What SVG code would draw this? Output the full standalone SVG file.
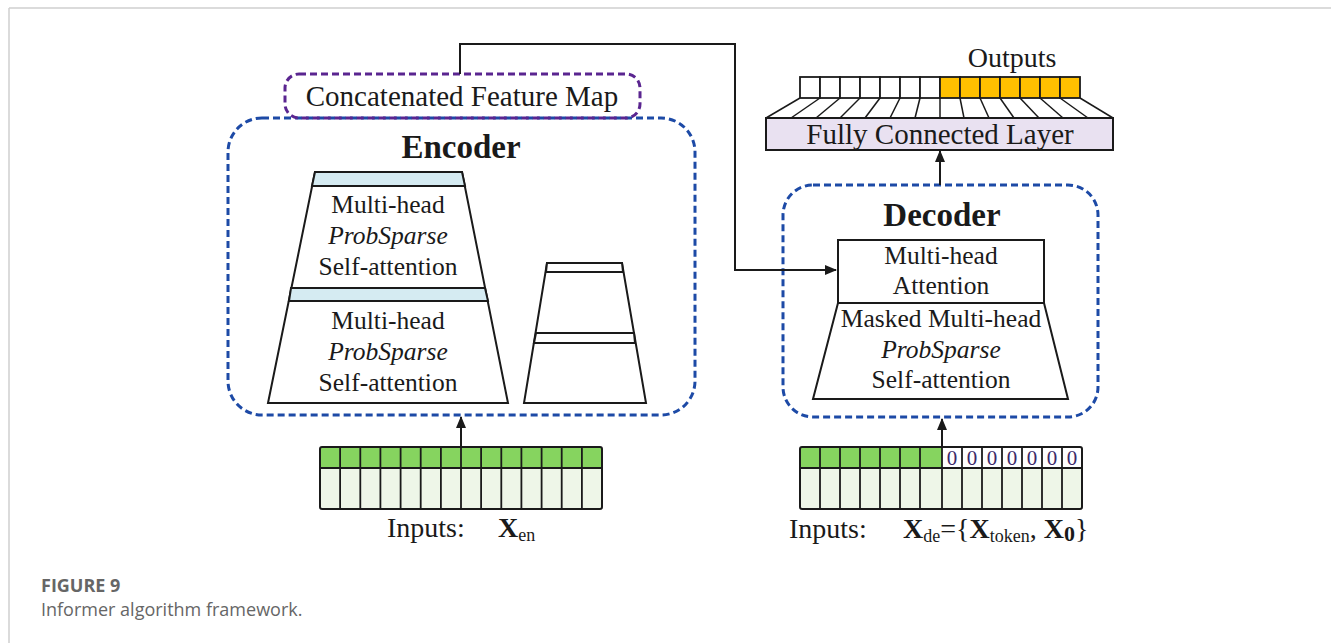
<svg xmlns="http://www.w3.org/2000/svg" width="1331" height="643" viewBox="0 0 1331 643">
<defs>
<style>
.t{font-family:"Liberation Serif","Times New Roman",serif;fill:#1a1a1a;font-size:25.5px;text-anchor:middle}
.l{font-size:29px}
.it{font-style:italic}
.b{font-weight:bold}
.dashB{fill:none;stroke:#1d4aa6;stroke-width:3;stroke-dasharray:7 4}
.dashP{fill:none;stroke:#5a2590;stroke-width:3;stroke-dasharray:7 4}
.blk{fill:#fff;stroke:#1a1a1a;stroke-width:2}
.band{fill:#d5ebf2;stroke:#1a1a1a;stroke-width:2}
.cell{stroke:#1a1a1a;stroke-width:1.8}
.conn{fill:none;stroke:#1a1a1a;stroke-width:2}
.cap{font-family:"Open Sans","Liberation Sans",sans-serif;fill:#666}
</style>
<marker id="arr" markerUnits="userSpaceOnUse" markerWidth="12" markerHeight="12" viewBox="0 0 12 12" refX="11" refY="6" orient="auto">
<path d="M0,1 L12,6 L0,11 Z" fill="#1a1a1a"/>
</marker>
</defs>
<rect width="1331" height="643" fill="#fff"/>
<g id="frame">
<line x1="9" y1="8" x2="1331" y2="8" stroke="#cfcfcf" stroke-width="1.5"/>
<line x1="9" y1="8" x2="9" y2="643" stroke="#cfcfcf" stroke-width="1.5"/>
</g>

<g id="encoder">
<rect class="dashB" x="228" y="118" width="467" height="297" rx="34"/>
<text class="t b" x="461" y="158" style="font-size:33px">Encoder</text>
<polygon class="blk" points="315,172 462,172 508,403 268,403"/>
<polygon class="band" points="315,172 462,172 465,186 312,186"/>
<polygon class="band" points="291,288 485,288 488,301 289,301"/>
<text class="t" x="388" y="213">Multi-head</text>
<text class="t it" x="388" y="244">ProbSparse</text>
<text class="t" x="388" y="275">Self-attention</text>
<text class="t" x="388" y="329">Multi-head</text>
<text class="t it" x="388" y="360">ProbSparse</text>
<text class="t" x="388" y="391">Self-attention</text>
<polygon class="blk" points="547,263 622,263 646,403 524,403"/>
<polygon class="band" points="547,263 622,263 623,272 546,272" style="fill:#fff"/>
<polygon class="band" points="536,333 634,333 635,343 534,343" style="fill:#fff"/>
</g>

<g id="concat">
<rect class="dashP" x="285" y="74" width="355" height="44" rx="14"/>
<text class="t l" x="462" y="106">Concatenated Feature Map</text>
</g>

<g id="decoder">
<rect class="dashB" x="783" y="185" width="315" height="232" rx="30"/>
<text class="t b" x="942" y="226" style="font-size:33px">Decoder</text>
<rect class="blk" x="838" y="240" width="206" height="63"/>
<text class="t" x="941" y="264">Multi-head</text>
<text class="t" x="941" y="294">Attention</text>
<polygon class="blk" points="838,303 1044,303 1068,399 813,399"/>
<text class="t" x="941" y="327">Masked Multi-head</text>
<text class="t it" x="941" y="358">ProbSparse</text>
<text class="t" x="941" y="388">Self-attention</text>
</g>

<g id="fc">
<g stroke="#1a1a1a" stroke-width="1.5">
<line x1="800" y1="98" x2="766" y2="118"/><line x1="820" y1="98" x2="791" y2="118"/><line x1="840" y1="98" x2="816" y2="118"/><line x1="860" y1="98" x2="840" y2="118"/><line x1="880" y1="98" x2="865" y2="118"/><line x1="900" y1="98" x2="890" y2="118"/><line x1="920" y1="98" x2="915" y2="118"/><line x1="940" y1="98" x2="940" y2="118"/><line x1="960" y1="98" x2="964" y2="118"/><line x1="980" y1="98" x2="989" y2="118"/><line x1="1000" y1="98" x2="1014" y2="118"/><line x1="1020" y1="98" x2="1039" y2="118"/><line x1="1040" y1="98" x2="1063" y2="118"/><line x1="1060" y1="98" x2="1088" y2="118"/><line x1="1080" y1="98" x2="1113" y2="118"/>
</g>
<rect x="766" y="118" width="347" height="32" fill="#e9e1f1" stroke="#1a1a1a" stroke-width="2"/>
<text class="t l" x="940" y="144">Fully Connected Layer</text>
</g>

<g id="outputs">
<text class="t" x="1012" y="67" style="font-size:28px">Outputs</text>
<g class="cell" fill="#fff">
<rect x="800" y="77" width="20" height="21"/><rect x="820" y="77" width="20" height="21"/><rect x="840" y="77" width="20" height="21"/><rect x="860" y="77" width="20" height="21"/><rect x="880" y="77" width="20" height="21"/><rect x="900" y="77" width="20" height="21"/><rect x="920" y="77" width="20" height="21"/>
</g>
<g class="cell" fill="#ffc000">
<rect x="940" y="77" width="20" height="21"/><rect x="960" y="77" width="20" height="21"/><rect x="980" y="77" width="20" height="21"/><rect x="1000" y="77" width="20" height="21"/><rect x="1020" y="77" width="20" height="21"/><rect x="1040" y="77" width="20" height="21"/><rect x="1060" y="77" width="20" height="21"/>
</g>
</g>

<g id="enc-inputs">
<rect x="320" y="447" width="282" height="21" fill="#86d45f"/>
<rect x="320" y="468" width="282" height="41" fill="#eef6e8"/>
<g stroke="#1a1a1a" stroke-width="1.8">
<line x1="340.1" y1="447" x2="340.1" y2="509"/><line x1="360.3" y1="447" x2="360.3" y2="509"/><line x1="380.4" y1="447" x2="380.4" y2="509"/><line x1="400.6" y1="447" x2="400.6" y2="509"/><line x1="420.7" y1="447" x2="420.7" y2="509"/><line x1="440.9" y1="447" x2="440.9" y2="509"/><line x1="461" y1="447" x2="461" y2="509"/><line x1="481.1" y1="447" x2="481.1" y2="509"/><line x1="501.3" y1="447" x2="501.3" y2="509"/><line x1="521.4" y1="447" x2="521.4" y2="509"/><line x1="541.6" y1="447" x2="541.6" y2="509"/><line x1="561.7" y1="447" x2="561.7" y2="509"/><line x1="581.9" y1="447" x2="581.9" y2="509"/>
<line x1="320" y1="468" x2="602" y2="468"/>
</g>
<rect x="320" y="447" width="282" height="62" rx="2" fill="none" stroke="#1a1a1a" stroke-width="2"/>
<text class="t" x="387" y="537" style="font-size:28px;text-anchor:start">Inputs:</text>
<text class="t b" x="498" y="537" style="text-anchor:start;font-size:28px">X<tspan dy="4" style="font-size:18px;font-weight:normal">en</tspan></text>
</g>

<g id="dec-inputs">
<rect x="800" y="447" width="142" height="21" fill="#86d45f"/>
<rect x="942" y="447" width="140" height="21" fill="#fff"/>
<rect x="800" y="468" width="282" height="41" fill="#eef6e8"/>
<g stroke="#1a1a1a" stroke-width="1.8">
<line x1="820" y1="447" x2="820" y2="509"/><line x1="840" y1="447" x2="840" y2="509"/><line x1="860" y1="447" x2="860" y2="509"/><line x1="880" y1="447" x2="880" y2="509"/><line x1="900" y1="447" x2="900" y2="509"/><line x1="920" y1="447" x2="920" y2="509"/><line x1="942" y1="447" x2="942" y2="509"/><line x1="962" y1="447" x2="962" y2="509"/><line x1="982" y1="447" x2="982" y2="509"/><line x1="1002" y1="447" x2="1002" y2="509"/><line x1="1022" y1="447" x2="1022" y2="509"/><line x1="1042" y1="447" x2="1042" y2="509"/><line x1="1062" y1="447" x2="1062" y2="509"/>
<line x1="800" y1="468" x2="1082" y2="468"/>
</g>
<rect x="800" y="447" width="282" height="62" rx="2" fill="none" stroke="#1a1a1a" stroke-width="2"/>
<g class="t" style="font-size:21px;fill:#3a2a6a">
<text x="952" y="465">0</text><text x="972" y="465">0</text><text x="992" y="465">0</text><text x="1012" y="465">0</text><text x="1032" y="465">0</text><text x="1052" y="465">0</text><text x="1072" y="465">0</text>
</g>
<text class="t" x="789" y="538" style="font-size:28px;text-anchor:start">Inputs:</text>
<text class="t" x="903" y="538" style="text-anchor:start;font-size:28px"><tspan class="b">X</tspan><tspan dy="4" style="font-size:18px">de</tspan><tspan dy="-4">={</tspan><tspan class="b">X</tspan><tspan dy="4" style="font-size:18px">token</tspan><tspan dy="-4">, </tspan><tspan class="b">X</tspan><tspan class="b" dy="3" style="font-size:22px">0</tspan><tspan dy="-3">}</tspan></text>
</g>

<g id="connectors">
<polyline class="conn" points="460,74 460,44 735,44 735,270 836,270" marker-end="url(#arr)"/>
<line class="conn" x1="940" y1="185" x2="940" y2="151" marker-end="url(#arr)"/>
<line class="conn" x1="461" y1="447" x2="461" y2="417" marker-end="url(#arr)"/>
<line class="conn" x1="942" y1="447" x2="942" y2="419" marker-end="url(#arr)"/>
</g>

<g id="caption">
<text class="cap" x="41" y="592" style="font-size:18px;font-weight:bold">FIGURE 9</text>
<text class="cap" x="41" y="616" style="font-size:18px">Informer algorithm framework.</text>
</g>
</svg>
